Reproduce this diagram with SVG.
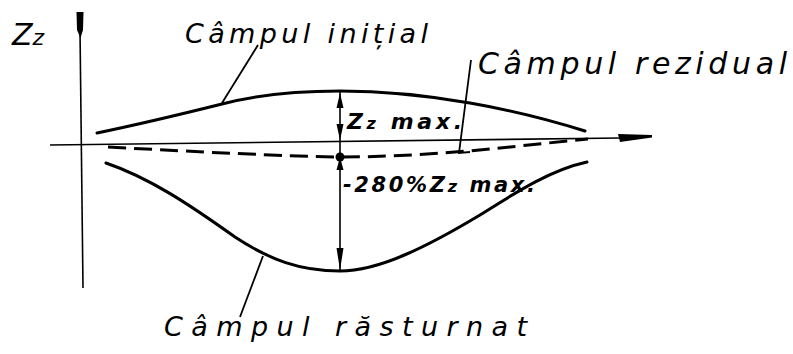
<svg xmlns="http://www.w3.org/2000/svg" width="793" height="354" viewBox="0 0 793 354">
  <style>
    .hand { font-family: "DejaVu Sans", "Liberation Sans", sans-serif; font-style: italic; fill: #000; }
    .bold { font-weight: bold; }
    .curve { fill: none; stroke: #000; stroke-width: 3; stroke-linecap: round; }
    .dash { fill: none; stroke: #000; stroke-width: 3; stroke-dasharray: 18 8; }
    .thin { fill: none; stroke: #000; stroke-width: 1.6; }
    .lead { fill: none; stroke: #000; stroke-width: 1.8; }
    .head { fill: #000; stroke: none; }
  </style>
  <rect width="793" height="354" fill="#fff"/>

  <g id="axes">
    <line class="thin" x1="80" y1="30" x2="83" y2="288"/>
    <polygon class="head" points="76.5,12 83.5,12 83,30 80.5,38 77,30"/>
    <line class="thin" x1="50" y1="145" x2="620" y2="138"/>
    <polygon class="head" points="618,134 652,135 652,137.5 620,142"/>
    <text class="hand" x="12" y="45" font-size="30">Z<tspan font-size="22">z</tspan></text>
  </g>

  <g id="initial-field">
    <path class="curve" d="M97,133 C150,122 190,112 222,104 C260,94 300,91 340,91 C390,91 430,96 470,103 C510,110 550,120 585,131"/>
    <text class="hand" x="185" y="43" font-size="27" textLength="243" lengthAdjust="spacing">Câmpul inițial</text>
  </g>

  <g id="residual-field">
    <path class="dash" d="M108,147 C200,152 280,156 340,157 C400,157 460,152 500,148 C540,144 565,141 588,139"/>
    <text class="hand" x="478" y="74" font-size="30" textLength="309" lengthAdjust="spacing">Câmpul rezidual</text>
  </g>

  <g id="overturned-field">
    <path class="curve" d="M106,163 C150,178 190,205 235,237 C270,260 300,271 340,271 C380,271 430,245 480,215 C515,193 550,170 587,162"/>
    <text class="hand" x="164" y="336" font-size="27" textLength="363" lengthAdjust="spacing">Câmpul răsturnat</text>
  </g>

  <g id="dimension">
    <line class="thin" x1="340" y1="92" x2="340" y2="271"/>
    <polygon class="head" points="340,93 343.5,108 336.5,108"/>
    <polygon class="head" points="340,140 343.5,124 336.5,124"/>
    <circle class="head" cx="340" cy="157" r="4.5"/>
    <polygon class="head" points="340,157 343.5,170 336.5,170"/>
    <polygon class="head" points="340,270 343.5,248 336.5,248"/>
    <text class="hand bold" x="347" y="129" font-size="22" textLength="115" lengthAdjust="spacing">Z<tspan font-size="16">z</tspan> max.</text>
    <text class="hand bold" x="343" y="192" font-size="21" textLength="192" lengthAdjust="spacing">-280%Z<tspan font-size="16">z</tspan> max.</text>
  </g>

  <g id="connectors">
    <line class="lead" x1="222" y1="103" x2="258" y2="45"/>
    <polyline class="lead" points="471,60 459,153 470,152"/>
    <line class="lead" x1="263" y1="256" x2="240" y2="317"/>
  </g>
</svg>
